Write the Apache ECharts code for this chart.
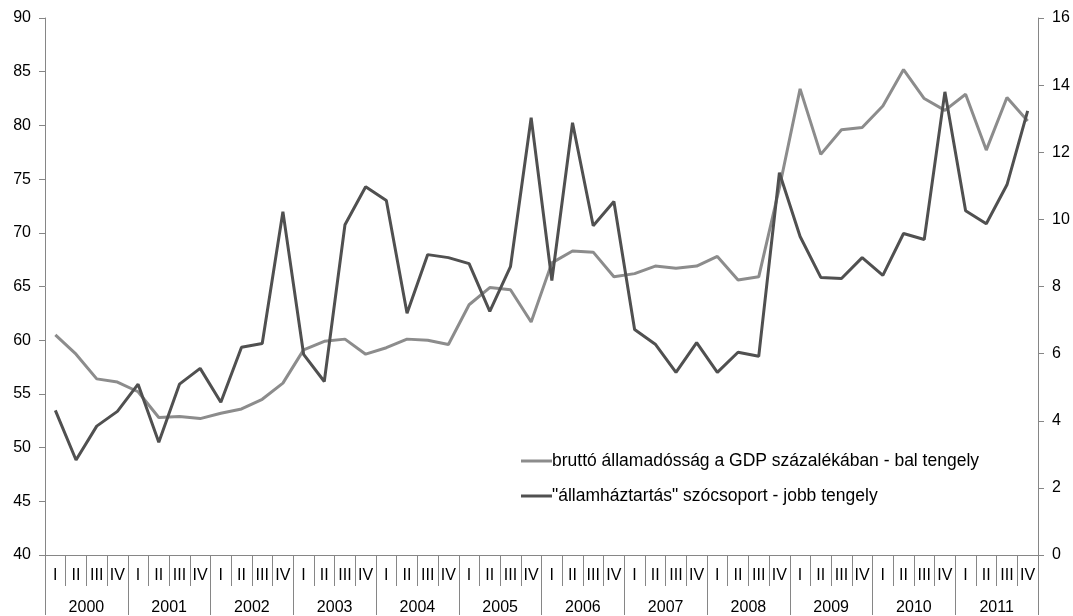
<!DOCTYPE html>
<html>
<head>
<meta charset="utf-8">
<script src="https://cdn.jsdelivr.net/npm/echarts@6/dist/echarts.min.js"></script>
<style>html,body{margin:0;padding:0;background:#fff}#c{width:1073px;height:616px}</style>
</head>
<body>
<div id="c"></div>
<script>
const years = ['2000','2001','2002','2003','2004','2005','2006','2007','2008','2009','2010','2011'];
const quarterNames = ['I','II','III','IV'];
const debtName = 'bruttó államadósság a GDP százalékában - bal tengely';
const wordName = '"államháztartás" szócsoport - jobb tengely';
const debt = [60.5,58.7,56.4,56.1,55.2,52.8,52.9,52.7,53.2,53.6,54.5,56.0,
              59.1,59.9,60.1,58.7,59.3,60.1,60.0,59.6,63.3,64.9,64.7,61.7,
              67.2,68.3,68.2,65.9,66.2,66.9,66.7,66.9,67.8,65.6,65.9,74.2,
              83.4,77.3,79.6,79.8,81.8,85.2,82.5,81.4,82.9,77.7,82.6,80.4];
const words = [4.31,2.83,3.84,4.28,5.09,3.36,5.09,5.56,4.55,6.19,6.30,10.23,
               5.98,5.17,9.84,10.97,10.56,7.20,8.95,8.86,8.68,7.26,8.59,13.03,
               8.18,12.88,9.81,10.53,6.72,6.28,5.44,6.33,5.44,6.04,5.92,11.39,
               9.49,8.27,8.24,8.86,8.33,9.58,9.40,13.80,10.26,9.87,11.03,13.23];
const leftTicks = {min:40,max:90,interval:5};
const rightTicks = {min:0,max:16,interval:2};

const quarters = [];
years.forEach(y => quarterNames.forEach(q => quarters.push(y + ' ' + q)));

const axisColor = '#868686';
const font = 'Liberation Sans, Arial, sans-serif';
const chart = echarts.init(document.getElementById('c'), null, {renderer:'canvas'});
chart.setOption({
  animation:false,
  backgroundColor:'#fff',
  grid:{left:45,right:35,top:18,bottom:60,containLabel:false},
  legend:{
    orient:'vertical', left:516, top:447, itemGap:17, itemWidth:31, itemHeight:3,
    icon:'rect',
    textStyle:{fontFamily:font,fontSize:17.5,color:'#000',padding:[0,0,0,-5]},
    data:[debtName, wordName]
  },
  xAxis:[
    {type:'category', data:quarters, boundaryGap:true, position:'bottom',
     axisLine:{show:true,lineStyle:{color:axisColor,width:1}},
     axisTick:{show:true,interval:0,length:31,lineStyle:{color:axisColor}},
     axisLabel:{interval:0,margin:13,fontFamily:font,fontSize:16,color:'#000',
       formatter:v=>v.split(' ')[1]}},
    {type:'category', data:years, boundaryGap:true, position:'bottom',
     axisLine:{show:false},
     axisTick:{show:true,interval:0,length:60,lineStyle:{color:axisColor}},
     axisLabel:{interval:0,margin:45,fontFamily:font,fontSize:16,color:'#000'}}
  ],
  yAxis:[
    {type:'value', min:leftTicks.min, max:leftTicks.max, interval:leftTicks.interval, position:'left',
     axisLine:{show:true,lineStyle:{color:axisColor}},
     axisTick:{show:true,length:6,lineStyle:{color:axisColor}},
     splitLine:{show:false},
     axisLabel:{margin:14,fontFamily:font,fontSize:16,color:'#000'}},
    {type:'value', min:rightTicks.min, max:rightTicks.max, interval:rightTicks.interval, position:'right',
     axisLine:{show:true,lineStyle:{color:axisColor}},
     axisTick:{show:true,length:6,lineStyle:{color:axisColor}},
     splitLine:{show:false},
     axisLabel:{margin:14,fontFamily:font,fontSize:16,color:'#000'}}
  ],
  series:[
    {name:debtName, type:'line', xAxisIndex:0, yAxisIndex:0, data:debt, showSymbol:false, symbol:'none',
     lineStyle:{color:'#8c8c8c',width:3}, itemStyle:{color:'#8c8c8c'}},
    {name:wordName, type:'line', xAxisIndex:0, yAxisIndex:1, data:words, showSymbol:false, symbol:'none',
     lineStyle:{color:'#505050',width:3}, itemStyle:{color:'#505050'}}
  ]
});
</script>
</body>
</html>
